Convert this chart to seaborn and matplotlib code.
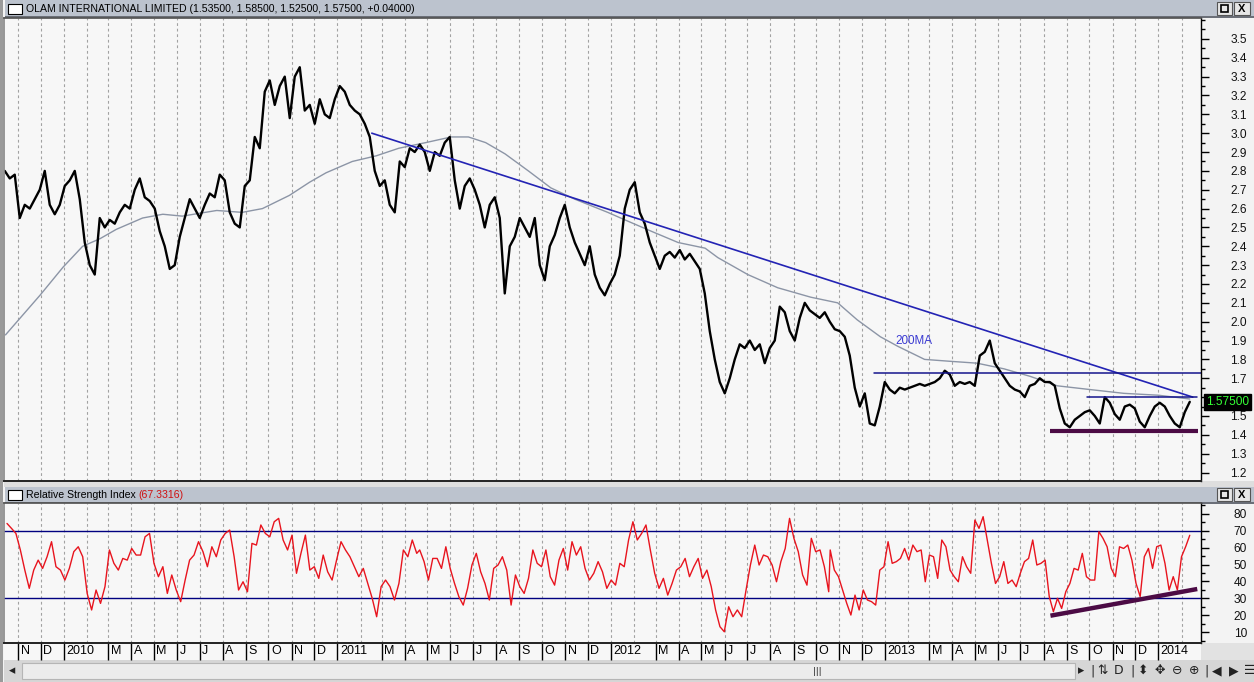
import numpy as np
import pandas as pd
import matplotlib
matplotlib.use("Agg")
import matplotlib.pyplot as plt
import matplotlib.transforms as mtransforms
from matplotlib.patches import Rectangle
from matplotlib.ticker import MultipleLocator
import seaborn as sns

# ---------------- data ----------------
price_start, price_end = "2009-10-14", "2014-02-12"
price_close = [
    2.80, 2.76, 2.78, 2.55, 2.62, 2.60, 2.65, 2.70, 2.80, 2.62,
    2.57, 2.62, 2.72, 2.75, 2.80, 2.65, 2.42, 2.30, 2.25, 2.55,
    2.50, 2.54, 2.52, 2.58, 2.62, 2.60, 2.70, 2.76, 2.66, 2.64,
    2.60, 2.48, 2.40, 2.28, 2.30, 2.45, 2.55, 2.65, 2.60, 2.55,
    2.62, 2.68, 2.66, 2.78, 2.75, 2.58, 2.52, 2.50, 2.72, 2.75,
    2.98, 2.92, 3.22, 3.28, 3.15, 3.25, 3.30, 3.08, 3.30, 3.35,
    3.12, 3.15, 3.05, 3.18, 3.10, 3.08, 3.18, 3.25, 3.22, 3.15,
    3.12, 3.10, 3.05, 2.98, 2.80, 2.72, 2.75, 2.62, 2.58, 2.85,
    2.82, 2.92, 2.90, 2.94, 2.90, 2.80, 2.90, 2.88, 2.95, 2.98,
    2.75, 2.60, 2.72, 2.76, 2.70, 2.62, 2.50, 2.62, 2.66, 2.55,
    2.15, 2.40, 2.45, 2.55, 2.50, 2.45, 2.55, 2.30, 2.22, 2.40,
    2.46, 2.55, 2.62, 2.50, 2.42, 2.36, 2.30, 2.40, 2.25, 2.18,
    2.14, 2.20, 2.25, 2.35, 2.60, 2.70, 2.74, 2.58, 2.52, 2.42,
    2.35, 2.28, 2.35, 2.37, 2.34, 2.38, 2.33, 2.36, 2.32, 2.28,
    2.15, 1.95, 1.80, 1.68, 1.62, 1.70, 1.80, 1.88, 1.86, 1.90,
    1.85, 1.88, 1.78, 1.86, 1.90, 2.08, 2.05, 1.95, 1.90, 2.02,
    2.10, 2.06, 2.04, 2.02, 2.05, 2.00, 1.96, 1.95, 1.92, 1.82,
    1.65, 1.55, 1.62, 1.46, 1.45, 1.55, 1.68, 1.64, 1.62, 1.65,
    1.64, 1.65, 1.66, 1.67, 1.66, 1.67, 1.68, 1.70, 1.74, 1.72,
    1.66, 1.68, 1.67, 1.68, 1.66, 1.82, 1.84, 1.90, 1.78, 1.74,
    1.70, 1.66, 1.64, 1.63, 1.60, 1.66, 1.67, 1.70, 1.68, 1.68,
    1.66, 1.54, 1.46, 1.44, 1.48, 1.50, 1.52, 1.53, 1.50, 1.46,
    1.60, 1.57, 1.51, 1.48, 1.55, 1.56, 1.54, 1.47, 1.44, 1.50,
    1.55, 1.57, 1.55, 1.50, 1.46, 1.44, 1.52, 1.575,
]

ma_dates = [
    "2009-10-15", "2009-11-30", "2009-12-31", "2010-01-26", "2010-02-18",
    "2010-03-12", "2010-04-16", "2010-05-13", "2010-06-08", "2010-07-24",
    "2010-08-27", "2010-09-23", "2010-10-29", "2010-11-25", "2010-12-17",
    "2011-01-21", "2011-02-22", "2011-03-24", "2011-04-29", "2011-06-02",
    "2011-06-25", "2011-07-18", "2011-08-13", "2011-09-13", "2011-10-13",
    "2011-11-14", "2011-12-28", "2012-01-20", "2012-02-24", "2012-03-31",
    "2012-05-06", "2012-05-23", "2012-07-02", "2012-08-11", "2012-09-24",
    "2012-10-30", "2012-11-25", "2012-12-26", "2013-01-18", "2013-02-23",
    "2013-03-29", "2013-05-04", "2013-06-09", "2013-07-14", "2013-08-19",
    "2013-10-02", "2013-11-16", "2014-01-01", "2014-02-12",
]
ma_values = [
    1.93, 2.14, 2.29, 2.40, 2.44, 2.49, 2.55, 2.57, 2.56, 2.59,
    2.58, 2.60, 2.67, 2.74, 2.79, 2.85, 2.88, 2.92, 2.95, 2.98,
    2.98, 2.95, 2.89, 2.80, 2.71, 2.65, 2.58, 2.54, 2.48, 2.42,
    2.39, 2.34, 2.25, 2.18, 2.13, 2.10, 2.01, 1.92, 1.87, 1.80,
    1.79, 1.78, 1.75, 1.71, 1.66, 1.64, 1.62, 1.61, 1.59,
]

rsi_2009_2011 = [
    74.3, 71.4, 68.4, 58.6, 46.7, 35.9, 46.7, 52.6, 47.7, 54.6, 63.5, 48.7,
    46.7, 40.8, 47.7, 57.6, 60.5, 54.6, 32.9, 23.1, 34.9, 27.0, 36.9, 58.6,
    50.7, 46.7, 53.6, 52.6, 59.5, 55.6, 55.6, 66.4, 68.4, 50.7, 42.8, 48.7,
    32.9, 43.8, 34.9, 28.0, 40.8, 52.6, 55.6, 63.5, 57.6, 48.7, 60.5, 54.6,
    64.5, 68.4, 70.4, 54.6, 34.9, 39.8, 33.9, 62.5, 61.5, 73.4, 68.4, 66.4,
    75.3, 77.3, 64.5, 58.6, 67.4, 44.8, 56.6, 67.4, 46.7, 48.7, 41.8, 55.6,
    45.7, 40.8, 52.6, 63.5, 58.6, 54.6, 48.7, 42.8, 47.7, 38.8, 30.0, 19.1,
    36.9, 40.8, 36.9, 29.0, 38.8, 58.6, 54.6, 64.5, 56.6,
]
rsi_2011_2012 = [
    58.6, 51.7, 40.8, 53.6, 53.6, 47.7, 60.5, 47.7, 38.8, 30.9, 26.0, 35.9,
    49.7, 56.6, 45.7, 38.8, 29.0, 47.7, 49.7, 54.6, 46.7, 26.0, 43.8, 36.9,
    32.9, 41.8, 58.6, 50.7, 48.7, 58.6, 42.8, 37.8, 52.6, 59.5, 46.7, 63.5,
    55.6, 60.5, 47.7, 40.8, 44.8, 51.7, 45.7, 35.9, 40.8, 37.8, 50.7, 48.7,
    64.5, 75.3, 64.5, 68.4, 73.4, 58.6, 44.8, 35.9, 41.8, 31.9, 38.8, 46.7,
    48.7, 53.6, 42.8, 48.7, 53.6, 41.8, 46.7, 36.9, 23.1, 13.2, 10.2, 25.0,
    19.1, 23.1, 19.1, 34.9, 49.7, 61.5, 49.7, 55.6, 54.6, 49.7, 39.8, 51.7,
    59.5, 77.3, 65.5, 57.6, 43.8, 37.8, 65.5, 57.6, 58.6, 48.7, 33.9,
]
rsi_2012_2014 = [
    58.6, 46.7, 42.8, 34.9, 27.0, 20.1, 31.9, 23.1, 34.9, 29.0, 28.0, 26.0,
    46.7, 48.7, 63.5, 50.7, 51.7, 53.6, 59.5, 52.6, 61.5, 57.6, 58.6, 39.8,
    55.6, 54.6, 41.8, 64.5, 60.5, 46.7, 42.8, 39.8, 54.6, 48.7, 44.8, 76.3,
    71.4, 78.3, 64.5, 50.7, 38.8, 42.8, 51.7, 38.8, 40.8, 36.9, 44.8, 51.7,
    53.6, 64.5, 49.7, 50.7, 52.6, 31.0, 22.1, 30.0, 24.0, 33.9, 38.8, 47.7,
    46.7, 56.6, 42.8, 40.8, 40.8, 69.4, 65.5, 60.5, 47.7, 42.8, 60.5, 59.5,
    61.5, 52.6, 38.8, 31.0, 54.6, 59.5, 47.7, 60.5, 61.5, 50.7, 34.9, 42.8,
    34.9, 54.6, 60.5, 67.3,
]
rsi_segments = [
    ("2009-10-17", "2011-04-17", rsi_2009_2011),
    ("2011-04-21", "2012-10-18", rsi_2011_2012),
    ("2012-10-20", "2014-02-12", rsi_2012_2014),
]
rsi_levels = [70, 30]

# drawn trend lines: (start date, start value, end date, end value)
price_trendline = ("2011-02-16", 3.00, "2014-02-16", 1.60)
price_resistance = [("2012-12-17", 1.73, "2014-02-27", 1.73),
                    ("2013-09-28", 1.60, "2014-02-21", 1.60)]
price_support = ("2013-08-10", 1.42, "2014-02-23", 1.42)
rsi_support = ("2013-08-10", 19.7, "2014-02-22", 35.5)
ma_label = ("2013-01-15", 1.90, "200MA")

title_main = "OLAM INTERNATIONAL LIMITED (1.53500, 1.58500, 1.52500, 1.57500, +0.04000)"
title_rsi = "Relative Strength Index "
title_rsi_value = "(67.3316)"
last_price_text = "1.57500"
last_price = 1.575

price_ticks = [round(1.2 + 0.1 * i, 1) for i in range(24)]
rsi_ticks = [10, 20, 30, 40, 50, 60, 70, 80]
month_starts = pd.date_range("2009-11-01", "2014-02-01", freq="MS")
x_range = ("2009-10-13", "2014-02-27")

# ---------------- styling ----------------
sns.set_theme(style="white")
plt.rcParams["font.family"] = ["Liberation Sans", "DejaVu Sans"]

W, H = 1254, 682
fig = plt.figure(figsize=(W / 100, H / 100), dpi=100)
fig.patch.set_facecolor("#f3f3f3")


def rect(x0, y0, x1, y1, fc, ec="none", lw=0.0, z=-5):
    fig.patches.append(Rectangle((x0 / W, 1 - y1 / H), (x1 - x0) / W, (y1 - y0) / H,
                                 transform=fig.transFigure, facecolor=fc,
                                 edgecolor=ec, linewidth=lw, zorder=z))


def ftext(x, y, s, **kw):
    fig.text(x / W, 1 - y / H, s, **kw)


BAR = "#bcc3ce"
# window chrome
rect(0, 0, 3, H, "#9a9a9a")
rect(5, 0, W, 17, BAR)
rect(5, 16.3, W, 17.5, "#6b6f78")
rect(4, 481, W, 487, "#dedede")
rect(5, 487, W, 503, BAR)
rect(5, 502.3, W, 503.5, "#6b6f78")
rect(4, 643, 1201, 660, "#f7f7f7")
rect(1201, 643, W, 660, "#e2e2e2")
rect(4, 660, W, H, "#d6d6d6")
rect(22, 663, 1075, 679, "#ececec", ec="#b5b5b5", lw=0.8)

for yy in (0, 486):
    rect(8, yy + 4, 22, yy + 14, "white", ec="black", lw=0.8, z=2)
    rect(1217, yy + 2, 1232, yy + 15, "#e6e6e6", ec="#555555", lw=0.8, z=2)
    rect(1221, yy + 5, 1228, yy + 12, "none", ec="black", lw=1.2, z=3)
    rect(1234, yy + 2, 1250, yy + 15, "#e6e6e6", ec="#555555", lw=0.8, z=2)
    ftext(1242, yy + 8.8, "X", ha="center", va="center", fontsize=8,
          fontweight="bold", color="black")

ftext(26, 9, title_main, ha="left", va="center", fontsize=7.6, color="black")
t1 = fig.text(26 / W, 1 - 495 / H, title_rsi, ha="left", va="center",
              fontsize=7.6, color="black")

# bottom toolbar glyphs
icons = [(12, "◂"), (817, "|||"), (1081, "▸"), (1093, "|"), (1103, "⇅"), (1119, "D"),
         (1132, "|"), (1143, "⬍"), (1160, "✥"), (1177, "⊖"), (1194, "⊕"),
         (1206, "|"), (1217, "◀"), (1234, "▶"), (1250, "☰")]
for xx, g in icons:
    ftext(xx, 671, g, ha="center", va="center", fontsize=9 if g != "|||" else 6,
          color="#222222", family=["DejaVu Sans"])

# ---------------- axes ----------------
ax1 = fig.add_axes([4 / W, 1 - 481 / H, 1197 / W, 463 / H])
ax2 = fig.add_axes([4 / W, 1 - 643 / H, 1197 / W, 140 / H], sharex=ax1)
for ax in (ax1, ax2):
    ax.set_facecolor("#f7f7f7")

price_df = pd.DataFrame({
    "date": pd.date_range(price_start, price_end, periods=len(price_close)),
    "close": price_close,
})
ma_df = pd.DataFrame({"date": pd.to_datetime(ma_dates), "ma": ma_values})
rsi_df = pd.concat([
    pd.DataFrame({"date": pd.date_range(a, b, periods=len(v)), "rsi": v})
    for a, b, v in rsi_segments
], ignore_index=True)

sns.lineplot(data=ma_df, x="date", y="ma", ax=ax1, color="#8c95a6", lw=1.0)
sns.lineplot(data=price_df, x="date", y="close", ax=ax1, color="black", lw=1.7)

d0, v0, d1, v1 = price_trendline
ax1.plot(pd.to_datetime([d0, d1]), [v0, v1], color="#2323b4", lw=1.2)
for d0, v0, d1, v1 in price_resistance:
    ax1.plot(pd.to_datetime([d0, d1]), [v0, v1], color="#14148c", lw=1.1)
d0, v0, d1, v1 = price_support
ax1.plot(pd.to_datetime([d0, d1]), [v0, v1], color="#4c0b45", lw=3.0,
         solid_capstyle="butt")
ax1.text(pd.Timestamp(ma_label[0]), ma_label[1], ma_label[2], color="#3a3ad2",
         fontsize=8.4, ha="left", va="center")

ax1.text(1.004, last_price, last_price_text, transform=ax1.get_yaxis_transform(),
         ha="left", va="center", fontsize=8.6, color="#35ff35", zorder=10,
         clip_on=False, bbox=dict(boxstyle="square,pad=0.15", fc="black", ec="black"))

for lv in rsi_levels:
    ax2.axhline(lv, color="#000080", lw=1.0)
sns.lineplot(data=rsi_df, x="date", y="rsi", ax=ax2, color="#e8141e", lw=1.0)
d0, v0, d1, v1 = rsi_support
ax2.plot(pd.to_datetime([d0, d1]), [v0, v1], color="#4c0b45", lw=3.2,
         solid_capstyle="butt")

# ---------------- scales / ticks ----------------
ax2.set_xlim(pd.Timestamp(x_range[0]), pd.Timestamp(x_range[1]))
ax1.set_ylim(1.155, 3.611)
ax2.set_ylim(3.55, 86.4)

major_months = [m for m in month_starts if m.month != 2]
minor_months = [m for m in month_starts if m.month == 2]
month_labels = [str(m.year) if m.month == 1 else m.strftime("%b")[0] for m in major_months]
ax2.set_xticks(major_months)
ax2.set_xticklabels(month_labels)
ax2.set_xticks(minor_months, minor=True)

for ax in (ax1, ax2):
    ax.set_xlabel("")
    ax.set_ylabel("")
    ax.grid(False)
    ax.grid(axis="x", which="both", color="#a2a2a2", lw=0.8, ls=(0, (2.5, 2.5)))
    ax.yaxis.tick_right()
    ax.tick_params(axis="y", which="major", direction="out", length=6, width=1,
                   color="black", labelsize=8.6, pad=27, labelcolor="#111111",
                   right=True, left=False)
    ax.tick_params(axis="y", which="minor", direction="out", length=3, width=1,
                   color="black", right=True, left=False)
    ax.spines["right"].set_color("black")
    ax.spines["right"].set_linewidth(1.0)
    ax.spines["left"].set_color("#8a8a8a")
    ax.spines["top"].set_color("#555555")
    ax.spines["bottom"].set_color("#222222")
    ax.spines["bottom"].set_linewidth(1.4)

ax1.tick_params(axis="x", which="both", length=0, labelbottom=False)
ax2.tick_params(axis="x", which="major", bottom=True, direction="out", length=12,
                width=1, color="black", labelsize=9, pad=-10.5, labelcolor="black")
ax2.tick_params(axis="x", which="minor", bottom=False, length=0)

ax1.set_yticks(price_ticks)
ax1.set_yticklabels(["" if abs(t - last_price) < 0.04 else f"{t:.1f}" for t in price_ticks])
ax1.yaxis.set_minor_locator(MultipleLocator(0.05))
ax2.set_yticks(rsi_ticks)
ax2.set_yticklabels([str(t) for t in rsi_ticks])
ax2.yaxis.set_minor_locator(MultipleLocator(5))
for ax in (ax1, ax2):
    for lbl in ax.get_yticklabels():
        lbl.set_horizontalalignment("right")

shift = mtransforms.ScaledTranslation(2.5 / 100, 0, fig.dpi_scale_trans)
for lbl in ax2.get_xticklabels():
    lbl.set_horizontalalignment("left")
    lbl.set_transform(lbl.get_transform() + shift)

# red value after the RSI title
renderer = fig.canvas.get_renderer()
bb = t1.get_window_extent(renderer=renderer)
fig.text(bb.x1 / W, 1 - 495 / H, title_rsi_value, ha="left", va="center",
         fontsize=7.6, color="#d01010")

fig.savefig("out.png", dpi=100, facecolor=fig.get_facecolor())
